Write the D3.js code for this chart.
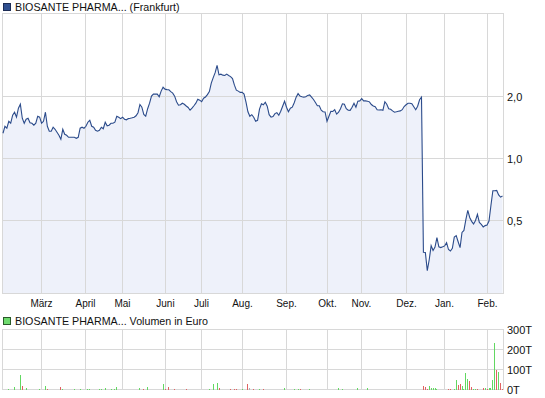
<!DOCTYPE html>
<html><head><meta charset="utf-8">
<script src="https://cdn.jsdelivr.net/npm/d3@7"></script>
<style>
body{margin:0;background:#fff}
svg{display:block}
text{font-family:"Liberation Sans",Arial,sans-serif;fill:#111}
</style>
</head><body>
<svg id="c" width="545" height="398"></svg>
<script>
// ---------- data ----------
const priceTitle = "BIOSANTE PHARMA... (Frankfurt)";
const volumeTitle = "BIOSANTE PHARMA... Volumen in Euro";
const monthLabels = ["März","April","Mai","Juni","Juli","Aug.","Sep.","Okt.","Nov.","Dez.","Jan.","Feb."];
const monthDays   = [20, 43, 62, 84, 103, 124, 147, 168, 186, 209, 229, 251];
const priceTicks = [0.5, 1, 2];
const priceTickLabels = ["0,5", "1,0", "2,0"];
const volTicks = [0, 100, 200, 300];
const volTickLabels = ["0T", "100T", "200T", "300T"];
const prices = [
1.326,1.433,1.402,1.515,1.482,1.620,1.675,1.585,1.752,1.831,
1.567,1.482,1.550,1.567,1.490,1.482,1.450,1.482,1.602,1.585,
1.482,1.515,1.675,1.433,1.356,1.356,1.418,1.386,1.341,1.296,
1.240,1.386,1.311,1.296,1.268,1.268,1.268,1.268,1.254,1.268,
1.402,1.418,1.402,1.433,1.499,1.532,1.433,1.418,1.371,1.356,
1.371,1.418,1.394,1.499,1.440,1.450,1.482,1.482,1.499,1.602,
1.585,1.560,1.585,1.550,1.540,1.560,1.567,1.575,1.585,1.610,
1.666,1.826,1.771,1.635,1.602,1.742,1.852,2.003,2.048,2.048,
2.048,1.990,2.118,2.213,2.165,2.153,2.150,2.106,2.071,2.003,
1.883,1.811,1.820,1.852,1.831,1.795,1.766,1.713,1.752,1.800,
1.852,1.936,1.915,1.883,1.958,1.985,2.037,2.106,2.315,2.460,
2.600,2.820,2.540,2.558,2.530,2.520,2.560,2.520,2.490,2.435,
2.264,2.141,2.118,2.088,2.088,2.048,1.873,1.684,1.602,1.630,
1.585,1.515,1.532,1.733,1.840,1.820,1.873,1.791,1.630,1.585,
1.595,1.650,1.666,1.620,1.694,1.791,1.894,1.771,1.684,1.752,
1.771,1.862,1.980,2.060,2.003,1.990,1.980,1.990,2.020,2.030,
1.980,1.930,1.865,1.800,1.800,1.713,1.684,1.680,1.515,1.602,
1.694,1.690,1.723,1.640,1.675,1.742,1.840,1.831,1.742,1.713,
1.710,1.771,1.852,1.771,1.894,1.900,1.948,1.900,1.900,1.894,
1.880,1.825,1.795,1.780,1.723,1.717,1.723,1.713,1.883,1.831,
1.742,1.730,1.700,1.675,1.684,1.694,1.700,1.723,1.785,1.820,
1.852,1.852,1.840,1.780,1.723,1.791,1.925,1.980,0.353,0.352,
0.288,0.325,0.380,0.360,0.374,0.416,0.375,0.372,0.375,0.379,
0.393,0.364,0.358,0.369,0.418,0.425,0.397,0.372,0.440,0.450,
0.508,0.562,0.520,0.498,0.484,0.503,0.538,0.492,0.481,0.468,
0.475,0.478,0.500,0.594,0.700,0.700,0.702,0.668,0.652,0.660
];
const volDay = [3,6,9,10,12,19,22,23,30,31,37,40,44,45,50,51,53,56,58,59,
  71,73,75,83,84,86,89,95,107,109,111,112,118,120,121,124,127,128,130,133,135,
  146,151,153,154,159,174,176,184,189,
  218,219,220,221,222,223,224,225,231,232,234,235,236,237,238,239,240,241,242,243,
  244,245,246,249,250,251,252,253,254,255,256,257,258,259];
const volAmount = [5,15,72,20,6,5,20,5,15,5,5,5,5,5,5,5,10,5,5,15,
  8,5,15,26,5,15,5,5,5,26,33,10,5,5,5,5,26,8,5,5,5,
  10,5,5,5,5,10,5,10,10,
  20,15,5,20,10,10,10,5,5,5,3,47,21,27,20,5,82,51,42,15,
  5,5,5,10,10,5,10,10,46,232,96,86,32,5];
const volDir = ["u","u","u","d","u","u","u","d","d","u","u","u","u","u","u","u","u","u","u","u",
  "u","d","u","u","d","d","d","d","u","u","u","d","d","d","d","u","d","n","d","u","d",
  "u","u","u","d","u","u","u","u","u",
  "d","d","d","u","u","u","u","u","d","d","u","u","d","d","u","u","u","u","d","d",
  "u","u","d","d","u","d","u","u","u","u","d","u","d","d"];

// ---------- drawing ----------
const svg = d3.select("#c");
const L = 2.5, R = 503.5, pT = 13.5, pB = 293.5, vT = 329.5, vB = 389.5;
const gridCol = "#d8d8d8";
const x = d3.scaleLinear().domain([0, prices.length - 1]).range([3, 502.5]);
const y = d3.scaleLog().domain([0.2233, 5.02]).range([pB, pT]);
const yv = d3.scaleLinear().domain([0, 300]).range([vB, vT]);
const gx = i => Math.round(x(i) - 0.5) + 0.5;
const gy = v => Math.round(y(v) - 0.5) + 0.5;

// legend price
svg.append("rect").attr("x", 3.5).attr("y", 3.5).attr("width", 7).attr("height", 7)
  .attr("fill", "#2f4f8f").attr("stroke", "#1c2c55");
svg.append("text").attr("x", 15).attr("y", 11).attr("font-size", "10.7px").text(priceTitle);

// price area fill
svg.append("path").datum(prices)
  .attr("d", d3.area().x((d, i) => x(i)).y0(pB).y1(d => y(d)))
  .attr("fill", "#eef1fa");

// price grid
const gp = svg.append("g").attr("stroke", gridCol).attr("stroke-width", 1).attr("shape-rendering", "crispEdges");
gp.selectAll(".v").data(monthDays).join("line")
  .attr("x1", d => gx(d)).attr("x2", d => gx(d)).attr("y1", pT).attr("y2", pB);
gp.selectAll(".h").data(priceTicks).join("line")
  .attr("x1", L).attr("x2", R).attr("y1", d => gy(d)).attr("y2", d => gy(d));
svg.append("rect").attr("x", L).attr("y", pT).attr("width", R - L).attr("height", pB - pT)
  .attr("fill", "none").attr("stroke", gridCol).attr("shape-rendering", "crispEdges");

// price line
svg.append("path").datum(prices)
  .attr("d", d3.line().x((d, i) => x(i)).y(d => y(d)))
  .attr("fill", "none").attr("stroke", "#2b4b8b").attr("stroke-width", 1.1);

// price axis labels
svg.selectAll(".pl").data(priceTicks).join("text")
  .attr("x", 507).attr("y", d => y(d) + 4.5).attr("font-size", "11px")
  .text((d, i) => priceTickLabels[i]);

// month labels
svg.selectAll(".ml").data(monthDays).join("text")
  .attr("x", d => gx(d)).attr("y", 307).attr("font-size", "10px").attr("text-anchor", "middle")
  .text((d, i) => monthLabels[i]);

// legend volume
svg.append("rect").attr("x", 3.5).attr("y", 317.5).attr("width", 7).attr("height", 7)
  .attr("fill", "#6edb6e").attr("stroke", "#2a5a2a");
svg.append("text").attr("x", 15).attr("y", 325).attr("font-size", "10.7px").text(volumeTitle);

// volume grid
const gv = svg.append("g").attr("stroke", gridCol).attr("stroke-width", 1).attr("shape-rendering", "crispEdges");
gv.selectAll(".v").data(monthDays).join("line")
  .attr("x1", d => gx(d)).attr("x2", d => gx(d)).attr("y1", vT).attr("y2", vB);
gv.selectAll(".h").data(volTicks).join("line")
  .attr("x1", L).attr("x2", R).attr("y1", d => yv(d)).attr("y2", d => yv(d));
svg.append("rect").attr("x", L).attr("y", vT).attr("width", R - L).attr("height", vB - vT)
  .attr("fill", "none").attr("stroke", gridCol).attr("shape-rendering", "crispEdges");

// volume bars
const dirCol = {u: "#62d862", d: "#e06262", n: "#b0b0b0"};
svg.append("g").attr("shape-rendering", "crispEdges").selectAll("rect").data(volDay).join("rect")
  .attr("x", d => Math.round(x(d) - 0.5)).attr("width", 1)
  .attr("y", (d, i) => yv(volAmount[i])).attr("height", (d, i) => yv(0) - yv(volAmount[i]))
  .attr("fill", (d, i) => dirCol[volDir[i]]);

// volume labels
svg.selectAll(".vl").data(volTicks).join("text")
  .attr("x", 507).attr("y", d => yv(d) + 4.5).attr("font-size", "11px")
  .text((d, i) => volTickLabels[i]);
</script>
</body></html>
